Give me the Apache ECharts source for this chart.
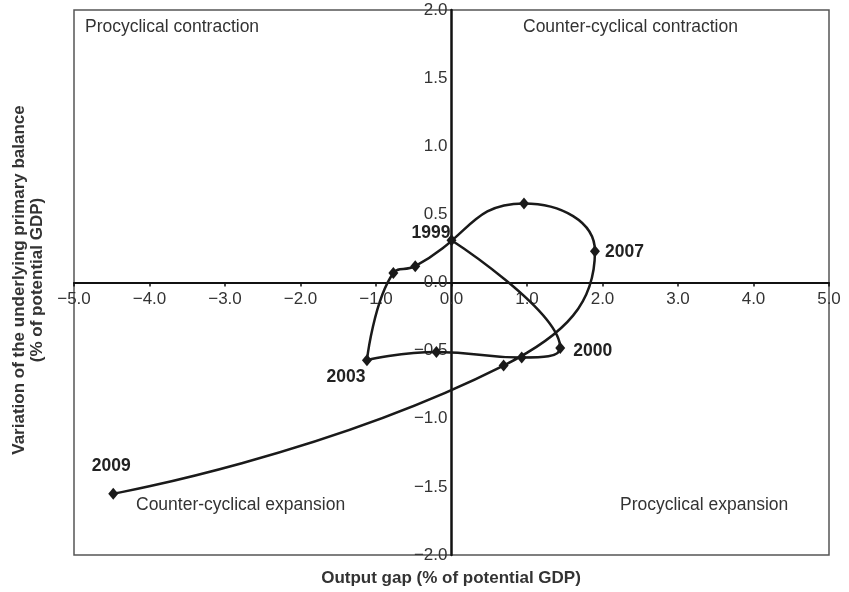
<!DOCTYPE html>
<html><head><meta charset="utf-8">
<script src="https://cdn.jsdelivr.net/npm/echarts@6/dist/echarts.min.js"></script>
<style>html,body{margin:0;padding:0;background:#fff}#c{width:849px;height:592px}</style>
</head><body><div id="c"></div>
<script>
const years = ['1999','2000','2001','2002','2003','2004','2005','2006','2007','2008','2009'];
const outputGap = [0.0, 1.44, 0.93, -0.20, -1.12, -0.77, -0.48, 0.96, 1.90, 0.69, -4.48];
const primaryBalance = [0.31, -0.48, -0.55, -0.51, -0.57, 0.07, 0.12, 0.58, 0.23, -0.61, -1.55];
const labelledYears = ['1999','2000','2003','2007','2009'];
const xTicks = [-5,-4,-3,-2,-1,0,1,2,3,4,5];
const yTicks = [-2,-1.5,-1,-0.5,0,0.5,1,1.5,2];
const quadrantLabels = ['Procyclical contraction','Counter-cyclical contraction','Counter-cyclical expansion','Procyclical expansion'];

const labelPos = {
  '1999': {position:'left', offset:[9,-7]},
  '2000': {position:'right', offset:[3,3]},
  '2003': {position:'bottom', offset:[-21,-3]},
  '2007': {position:'right', offset:[0,1]},
  '2009': {position:'top', offset:[-2,-8]}
};
function fmt(v){ const s = Math.abs(v).toFixed(1); return v < 0 ? '\u2212' + s : s; }

const data = years.map((y,i) => {
  const item = {value:[outputGap[i], primaryBalance[i]], name:y};
  if (labelledYears.includes(y)) {
    item.label = Object.assign({show:true, formatter:y, fontWeight:'bold', fontSize:17.5,
      color:'#222', fontFamily:'Liberation Sans'}, labelPos[y]);
  }
  return item;
});

const chart = echarts.init(document.getElementById('c'));
const tickFont = {fontFamily:'Liberation Sans', fontSize:17, color:'#333'};
chart.setOption({
  animation:false,
  grid:{left:74, right:20, top:10, bottom:37, show:true, borderColor:'#555', borderWidth:1.5, containLabel:false},
  xAxis:{type:'value', min:xTicks[0], max:xTicks[xTicks.length-1], interval:1,
    position:'bottom', offset:-272.5,
    axisLine:{onZero:false, lineStyle:{color:'#111', width:2}},
    axisTick:{show:true, length:4, lineStyle:{color:'#111', width:1.5}},
    splitLine:{show:false},
    axisLabel:Object.assign({margin:8, formatter:fmt, showMinLabel:true, showMaxLabel:true}, tickFont)},
  yAxis:{type:'value', min:yTicks[0], max:yTicks[yTicks.length-1], interval:0.5,
    position:'left', offset:-377.5,
    axisLine:{onZero:false, lineStyle:{color:'#111', width:2.5}},
    axisTick:{show:false},
    splitLine:{show:false},
    axisLabel:Object.assign({margin:4, formatter:fmt, showMinLabel:true, showMaxLabel:true}, tickFont)},
  series:[{type:'line', data:data, smooth:0.5,
    symbol:'diamond', symbolSize:[10,12],
    lineStyle:{color:'#1a1a1a', width:2.5},
    itemStyle:{color:'#1a1a1a'}, z:5}],
  graphic:[
    {type:'text', left:85, top:18, style:{text:quadrantLabels[0], font:'17.5px Liberation Sans', fill:'#333'}},
    {type:'text', left:523, top:18, style:{text:quadrantLabels[1], font:'17.5px Liberation Sans', fill:'#333'}},
    {type:'text', left:136, top:496, style:{text:quadrantLabels[2], font:'17.5px Liberation Sans', fill:'#333'}},
    {type:'text', left:620, top:496, style:{text:quadrantLabels[3], font:'17.5px Liberation Sans', fill:'#333'}},
    {type:'text', x:451, y:578, style:{text:'Output gap (% of potential GDP)', font:'bold 17px Liberation Sans', fill:'#333', textAlign:'center', textVerticalAlign:'middle'}},
    {type:'text', x:28.5, y:280, rotation:Math.PI/2, style:{text:'Variation of the underlying primary balance\n(% of potential GDP)', font:'bold 17px Liberation Sans', fill:'#333', textAlign:'center', textVerticalAlign:'middle', lineHeight:18}}
  ]
});
</script></body></html>
